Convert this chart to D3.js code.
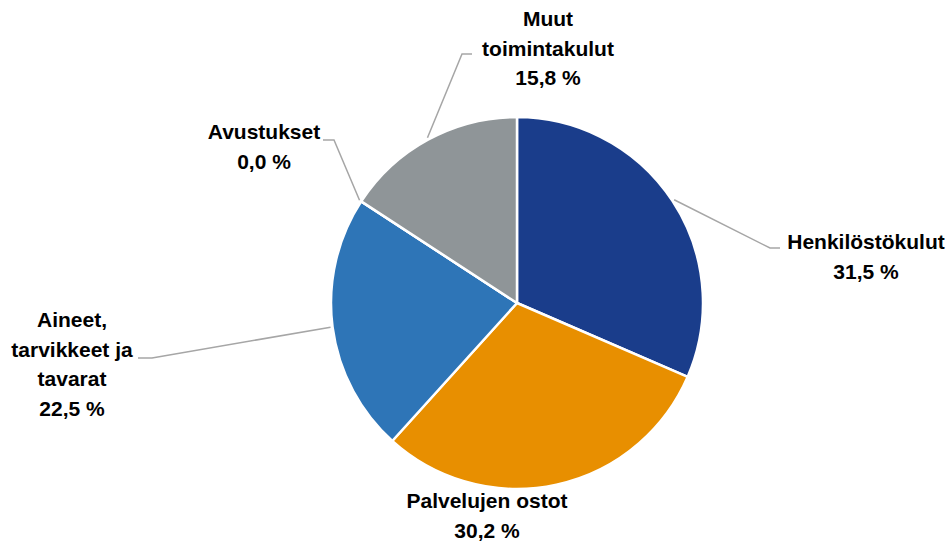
<!DOCTYPE html>
<html><head><meta charset="utf-8">
<script src="https://cdn.jsdelivr.net/npm/d3@7"></script>
<style>body{margin:0;background:#fff}svg{display:block}</style></head>
<body><svg id="c" width="948" height="545"></svg>
<script>
// Data
const categories = ["Henkilöstökulut","Palvelujen ostot","Aineet, tarvikkeet ja tavarat","Avustukset","Muut toimintakulut"];
const values = [31.5, 30.2, 22.5, 0.0, 15.8];
const labelLines = [["Henkilöstökulut"],["Palvelujen ostot"],["Aineet,","tarvikkeet ja","tavarat"],["Avustukset"],["Muut","toimintakulut"]];
const colors = ["#1a3d8b","#e88f00","#2e75b7","#a5a5a5","#8f9598"];

// Layout (label placement, as in the original chart)
const cx = 517, cy = 303, R = 186;
const labelLayout = [
  {x:866, y:249, leader:[[770,248],[780,248]]},
  {x:487, y:508, leader:null},
  {x:72,  y:327, leader:[[152,358],[138,358]]},
  {x:264, y:139, leader:[[334,140],[323,140]]},
  {x:548, y:26,  leader:[[462,54],[472,54]]}
];
const lineH = 29.5;

const svg = d3.select("#c");
const g = svg.append("g").attr("transform",`translate(${cx},${cy})`);
const pie = d3.pie().sort(null).value(d=>d.v);
const data = pie(values.map((v,i)=>({v,i})));
const arc = d3.arc().innerRadius(0).outerRadius(R);

g.selectAll("path.slice").data(data).join("path")
  .attr("class","slice")
  .attr("d",arc)
  .attr("fill",d=>colors[d.data.i])
  .attr("stroke","#fff").attr("stroke-width",2.5).attr("stroke-linejoin","round");

const fmt = v => d3.format(".1f")(v).replace(".",",") + " %";

// leader lines
data.forEach(d=>{
  const L = labelLayout[d.data.i];
  if(!L.leader) return;
  const a = (d.startAngle+d.endAngle)/2;
  const p0 = [cx + (R+2)*Math.sin(a), cy - (R+2)*Math.cos(a)];
  svg.append("path")
    .attr("d", d3.line()([p0, ...L.leader]))
    .attr("fill","none").attr("stroke","#a6a6a6").attr("stroke-width",1.5);
});

// labels
data.forEach(d=>{
  const i = d.data.i, L = labelLayout[i];
  const lines = labelLines[i].concat([fmt(values[i])]);
  const t = svg.append("text")
    .attr("text-anchor","middle")
    .attr("font-family","'Liberation Sans', Arial, sans-serif")
    .attr("font-weight","bold").attr("font-size",21).attr("fill","#000");
  lines.forEach((s,k)=>{
    t.append("tspan").attr("x",L.x).attr("y",L.y + k*lineH).text(s);
  });
});
</script></body></html>
